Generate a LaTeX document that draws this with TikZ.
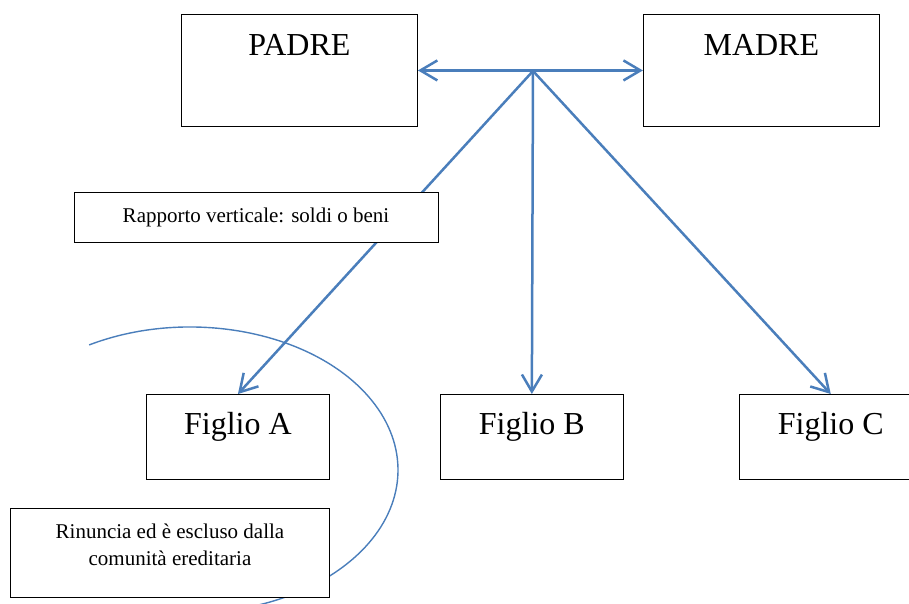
\documentclass[tikz,border=0pt]{standalone}
\usepackage{fontspec}
\setmainfont{Liberation Serif}
\usetikzlibrary{positioning, arrows.meta}
\definecolor{linkblue}{HTML}{4A7EBB}

\begin{document}
\begin{tikzpicture}[
    x=1pt, y=1pt,
    parent/.style={
        rectangle, draw=black, line width=0.9pt, fill=white,
        minimum width=236pt, inner sep=0pt,
        text height=41pt, text depth=71pt,
        font=\fontsize{32}{38}\selectfont
    },
    child/.style={
        rectangle, draw=black, line width=0.9pt, fill=white,
        minimum width=183pt, inner sep=0pt,
        text height=40pt, text depth=45pt,
        font=\fontsize{32}{38}\selectfont
    },
    note/.style={
        rectangle, draw=black, line width=0.9pt, fill=white,
        inner sep=0pt, align=center,
        font=\fontsize{21}{27}\selectfont
    },
    arr/.style={-{Straight Barb[length=17pt, width=20pt]}, line width=2.5pt, draw=linkblue},
    dblarr/.style={{Straight Barb[length=17pt, width=20pt]}-{Straight Barb[length=17pt, width=20pt]}, line width=2.5pt, draw=linkblue},
    curve/.style={draw=linkblue, line width=1.4pt}
]
\useasboundingbox (0,0) rectangle (909,604);
\clip (0,0) rectangle (909,604);

% ---------------- Parents ----------------
\node[parent, anchor=north west] (padre) at (181,590) {PADRE};
\node[parent, right=225pt of padre] (madre) {MADRE};
\coordinate (hub) at (533,533);

% ---------------- Children ----------------
\node[child, anchor=north west] (figA) at (146,210) {Figlio A};
\node[child, right=110pt of figA] (figB) {Figlio B};
\node[child, right=115pt of figB] (figC) {Figlio C};

% ---------------- Arrows ----------------
\draw[dblarr] (padre) -- (madre);
\draw[arr] (hub) -- (figA.north);
\draw[arr] (hub) -- (figB.north);
\draw[arr] (hub) -- (figC.north);

% renunciation arc round Figlio A
\draw[curve] (190,134) ++(119:208 and 143) arc[start angle=119, end angle=-78, x radius=208, y radius=143];

% ---------------- Notes ----------------
\node[note, minimum width=364pt, minimum height=50pt] (vert) at (256,387) {Rapporto verticale: soldi o beni};
\node[note, anchor=north west, minimum width=319pt, text height=57pt, text depth=32pt] (rinuncia) at (10,96) {Rinuncia ed è escluso dalla\\comunità ereditaria};

\end{tikzpicture}
\end{document}
